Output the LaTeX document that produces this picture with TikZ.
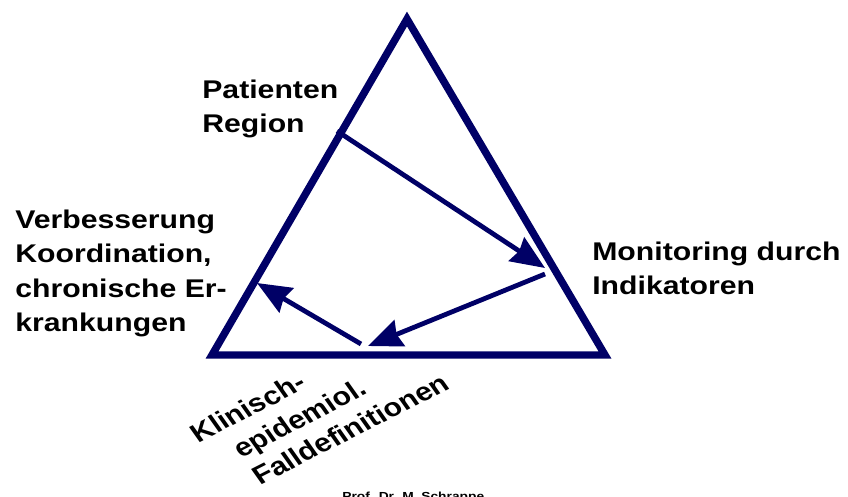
\documentclass[tikz,border=0pt]{standalone}
\usepackage{fontspec}
\setmainfont{Liberation Sans}
\usepackage{tikz}
\usetikzlibrary{arrows.meta,positioning}
\definecolor{navyblue}{RGB}{0,0,102}

\begin{document}
\begin{tikzpicture}[
x=0.025cm, y=-0.025cm,
font=\fontsize{18.2}{24.5}\selectfont\bfseries,
edgeline/.style={navyblue, line width=5.3pt},
flow/.style={navyblue, line width=3.4pt, -{Stealth[length=0.85cm,width=0.7cm,inset=0.08cm]}},
textblock/.style={inner sep=0pt, xscale=1.18, align=left, anchor=base west}
]
    \useasboundingbox (0,0) rectangle (848,496);

    % Corners of the triangle
    \draw
  	(407,19) coordinate (top)
  	(212,355) coordinate (bl)
  	(605,355) coordinate (br);

    % Ends of the arrows
    \draw
  	(337,131) coordinate (p1)
  	(545,268) coordinate (q1)
  	(545,274) coordinate (p2)
  	(368,346) coordinate (q2)
  	(361,344) coordinate (p3)
  	(257,283) coordinate (q3);

  	\draw[edgeline] (top) -- (br) -- (bl) -- cycle;

  	\draw[flow] (p1) -- (q1);
  	\draw[flow] (p2) -- (q2);
  	\draw[flow] (p3) -- (q3);

  	\node[textblock] (patienten) at (202,132.5) {Patienten\\Region};
  	\node[textblock] (verbesserung) at (15,331.5) {Verbesserung\\Koordination,\\chronische Er-\\krankungen};
  	\node[textblock] (monitoring) at (592,294.5) {Monitoring durch\\Indikatoren};
  	\node[textblock, rotate=31, font=\fontsize{18.2}{22.5}\selectfont\bfseries] (klinisch) at (237,497.5)
  	    {Klinisch-\\\hspace*{0.57cm}epidemiol.\\\hspace*{0.57cm}Falldefinitionen};

  	\node[textblock, font=\fontsize{8.3}{10}\selectfont\bfseries] (autor) at (342,500) {Prof. Dr. M. Schrappe};

\end{tikzpicture}
\end{document}
